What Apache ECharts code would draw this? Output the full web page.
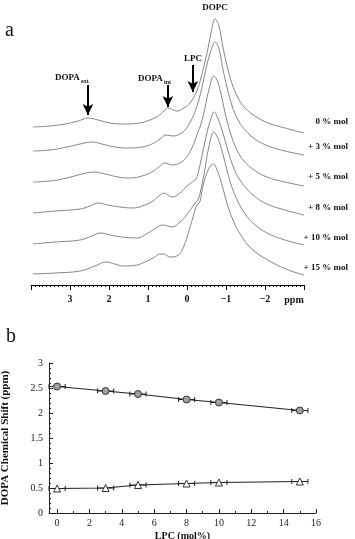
<!DOCTYPE html>
<html><head><meta charset="utf-8">
<script src="https://cdn.jsdelivr.net/npm/echarts@6/dist/echarts.min.js"></script>
<style>html,body{margin:0;padding:0;background:#fff}#c{width:355px;height:539px}</style>
</head><body><div id="c"></div>
<script>
// ---------- panel a : 31P NMR spectra (ppm, intensity above own baseline) ----------
const spectrumLabels = ['0 % mol', '+ 3 % mol', '+ 5 % mol', '+ 8 % mol', '+ 10 % mol', '+ 15 % mol'];
const spectrumOffsets = [158, 134, 103, 72, 41, 11];
const spec0 = [[3.95,0],[3.51,1],[3.13,3],[2.79,6],[2.54,9],[2.28,7],[1.97,4],[1.59,3],[1.21,4],[0.95,7],[0.74,11],[0.59,16],[0.49,19],[0.26,16],[0.08,19],[-0.08,24],[-0.26,37],[-0.41,57],[-0.54,79],[-0.64,99],[-0.72,108],[-0.82,101],[-0.92,80],[-1.03,61],[-1.15,44],[-1.31,29],[-1.49,19],[-1.74,11],[-2.08,4],[-2.51,-1],[-3.0,-6]];
const spec3 = [[3.95,0],[3.51,1],[3.08,4],[2.74,7],[2.44,9],[2.18,7],[1.85,4],[1.51,3],[1.15,4],[0.90,7],[0.69,12],[0.54,16],[0.36,15],[0.18,17],[0.03,22],[-0.10,30],[-0.21,40],[-0.31,52],[-0.41,68],[-0.51,86],[-0.62,101],[-0.72,109],[-0.82,102],[-0.92,82],[-1.03,63],[-1.15,46],[-1.31,31],[-1.49,21],[-1.74,12],[-2.08,5],[-2.51,0],[-3.0,-4]];
const spec5 = [[3.95,0],[3.51,1],[3.08,4],[2.69,8],[2.38,10],[2.10,8],[1.77,5],[1.46,4],[1.15,6],[0.90,10],[0.72,15],[0.56,19],[0.38,17],[0.18,19],[0.03,24],[-0.10,32],[-0.21,42],[-0.28,50],[-0.36,58],[-0.46,74],[-0.56,92],[-0.69,106],[-0.79,100],[-0.90,83],[-1.00,65],[-1.13,47],[-1.28,32],[-1.46,21],[-1.72,12],[-2.05,5],[-2.51,0],[-3.0,-4]];
const spec8 = [[3.95,0],[3.38,2],[2.74,4],[2.49,7],[2.28,10],[2.03,8],[1.72,6],[1.38,5],[1.08,8],[0.87,12],[0.72,17],[0.59,20],[0.38,16],[0.18,20],[0.00,27],[-0.13,31],[-0.23,34],[-0.31,44],[-0.41,62],[-0.51,80],[-0.62,95],[-0.69,101],[-0.79,95],[-0.92,80],[-1.03,65],[-1.15,50],[-1.31,36],[-1.49,26],[-1.72,17],[-2.05,9],[-2.51,3],[-3.0,-2]];
const spec10 = [[3.95,0],[3.38,2],[2.74,4],[2.44,8],[2.23,11],[1.97,9],[1.67,7],[1.28,6],[1.00,11],[0.79,16],[0.62,19],[0.38,17],[0.18,22],[0.03,28],[-0.10,35],[-0.21,41],[-0.28,44],[-0.36,55],[-0.46,75],[-0.56,97],[-0.69,112],[-0.79,106],[-0.92,90],[-1.03,73],[-1.15,57],[-1.31,42],[-1.49,30],[-1.72,20],[-2.05,11],[-2.51,4],[-3.0,-1]];
const spec15 = [[3.95,0],[3.38,1],[2.74,3],[2.36,8],[2.08,12],[1.85,10],[1.64,8],[1.28,9],[1.08,12],[0.87,16],[0.69,20],[0.59,20],[0.44,17],[0.26,18],[0.10,26],[-0.08,47],[-0.23,67],[-0.28,70],[-0.33,72],[-0.41,88],[-0.54,104],[-0.67,110],[-0.79,102],[-0.92,86],[-1.03,70],[-1.18,54],[-1.36,40],[-1.69,24],[-2.21,11],[-2.60,4],[-3.0,-1]];
const spectra = [spec0, spec3, spec5, spec8, spec10, spec15];
// arrow annotations: [ppm, top, tip] in panel-a value units
const arrowExt = [2.54, 200, 170];
const arrowInt = [0.49, 200, 178];
const arrowLpc = [-0.15, 220, 193];

// ---------- panel b : DOPA chemical shift vs LPC ----------
const lpc = [0, 3, 5, 8, 10, 15];
const dopaExt = [2.53, 2.44, 2.38, 2.27, 2.21, 2.05];
const dopaInt = [0.49, 0.50, 0.56, 0.59, 0.61, 0.63];
const lpcErr = [0.5, 0.5, 0.5, 0.5, 0.5, 0.5];

const SERIF = 'Liberation Serif';
const chart = echarts.init(document.getElementById('c'));

function errRender(params, api) {
  const x = api.value(0), y = api.value(1), e = api.value(2);
  const a = api.coord([x - e, y]), b = api.coord([x + e, y]);
  const h = 2.5, st = {stroke: '#222', lineWidth: 1};
  return {type: 'group', children: [
    {type: 'line', shape: {x1: a[0], y1: a[1], x2: b[0], y2: b[1]}, style: st},
    {type: 'line', shape: {x1: a[0], y1: a[1] - h, x2: a[0], y2: a[1] + h}, style: st},
    {type: 'line', shape: {x1: b[0], y1: b[1] - h, x2: b[0], y2: b[1] + h}, style: st}
  ]};
}

const specSeries = spectra.map((s, i) => ({
  type: 'line', xAxisIndex: 0, yAxisIndex: 0, showSymbol: false, smooth: 0.4,
  silent: true, animation: false,
  lineStyle: {color: '#858585', width: 1},
  data: s.map(p => [p[0], spectrumOffsets[i] + p[1]]),
  markLine: i === 0 ? {
    silent: true, animation: false, symbol: ['none', 'arrow'], symbolSize: [8, 11],
    lineStyle: {color: '#000', width: 2, type: 'solid'}, label: {show: false},
    emphasis: {disabled: true},
    data: [arrowExt, arrowInt, arrowLpc].map(a => [{coord: [a[0], a[1]]}, {coord: [a[0], a[2]]}])
  } : undefined
}));

const labelY = [122, 147, 177, 208, 238, 268];
const txt = (text, x, y, size, bold, align) => ({
  type: 'text', x: x, y: y, silent: true,
  style: {text: text, font: (bold ? 'bold ' : '') + size + 'px "' + SERIF + '"', fill: '#111',
    textAlign: align || 'left', textVerticalAlign: 'middle'}
});

const graphics = [
  txt('a', 5, 31, 20, false),
  txt('b', 6, 337, 20, false),
  txt('DOPC', 215, 8, 9, true, 'center'),
  txt('LPC', 193, 59, 9, true, 'center'),
  txt('DOPA', 55, 78, 9, true),
  txt('ext', 81, 81, 6, true),
  txt('DOPA', 138, 79, 9, true),
  txt('int', 164, 82, 6, true),
  txt('ppm', 294, 300, 10, true, 'center')
].concat(spectrumLabels.map((t, i) => txt(t, 348, labelY[i], 9, true, 'right')));

chart.setOption({
  animation: false,
  grid: [
    {left: 31, top: 0, width: 273, height: 285, outerBoundsMode: 'none', containLabel: false},
    {left: 49, top: 363, width: 267, height: 150, outerBoundsMode: 'none', containLabel: false},
    {left: 57, top: 363, width: 259, height: 150, outerBoundsMode: 'none', containLabel: false}
  ],
  xAxis: [
    {gridIndex: 0, type: 'value', min: -3, max: 4, interval: 1, inverse: true,
      axisLine: {lineStyle: {color: '#000', width: 1}},
      axisTick: {length: 5, lineStyle: {color: '#000'}},
      minorTick: {show: true, splitNumber: 10, length: 2, lineStyle: {color: '#000'}},
      splitLine: {show: false},
      axisLabel: {showMinLabel: false, showMaxLabel: false, margin: 9, color: '#111',
        fontFamily: SERIF, fontWeight: 'bold', fontSize: 10,
        formatter: v => String(v).replace('-', '\u2212')}},
    {gridIndex: 1, type: 'value', min: -0.5, max: 16, interval: 0.5,
      axisLine: {onZero: false, lineStyle: {color: '#222', width: 1}}, axisTick: {show: false},
      axisLabel: {show: false}, splitLine: {show: false},
      name: 'LPC (mol%)', nameLocation: 'middle', nameGap: 18,
      nameTextStyle: {fontFamily: SERIF, fontWeight: 'bold', fontSize: 10, color: '#111'}},
    {gridIndex: 2, type: 'value', min: 0, max: 16, interval: 2,
      axisLine: {show: false, onZero: false},
      axisTick: {inside: true, length: 4, lineStyle: {color: '#222'}},
      minorTick: {show: true, splitNumber: 2, length: 2, lineStyle: {color: '#222'}},
      splitLine: {show: false},
      axisLabel: {margin: 5, color: '#222', fontFamily: SERIF, fontSize: 10}}
  ],
  yAxis: [
    {gridIndex: 0, type: 'value', min: 0, max: 285, show: false},
    {gridIndex: 1, type: 'value', min: 0, max: 3, interval: 0.5,
      axisLine: {show: true, onZero: false, lineStyle: {color: '#222', width: 1}},
      axisTick: {show: true, inside: true, length: 4, lineStyle: {color: '#222'}},
      minorTick: {show: true, splitNumber: 5, length: 2, lineStyle: {color: '#222'}},
      splitLine: {show: false},
      axisLabel: {margin: 6, color: '#222', fontFamily: SERIF, fontSize: 10},
      name: 'DOPA Chemical Shift (ppm)', nameLocation: 'middle', nameGap: 38, nameRotate: 90,
      nameTextStyle: {fontFamily: SERIF, fontWeight: 'bold', fontSize: 11, color: '#111'}},
    {gridIndex: 2, type: 'value', min: 0, max: 3, show: false}
  ],
  series: specSeries.concat([
    {type: 'custom', xAxisIndex: 1, yAxisIndex: 1, renderItem: errRender, silent: true, z: 1,
      encode: {x: 0, y: 1}, data: lpc.map((x, i) => [x, dopaExt[i], lpcErr[i]])},
    {type: 'custom', xAxisIndex: 1, yAxisIndex: 1, renderItem: errRender, silent: true, z: 1,
      encode: {x: 0, y: 1}, data: lpc.map((x, i) => [x, dopaInt[i], lpcErr[i]])},
    {type: 'line', xAxisIndex: 1, yAxisIndex: 1, symbol: 'circle', symbolSize: 7, z: 3,
      itemStyle: {color: '#a0a0a0', borderColor: '#333', borderWidth: 1},
      lineStyle: {color: '#222', width: 1.2}, silent: true,
      data: lpc.map((x, i) => [x, dopaExt[i]])},
    {type: 'line', xAxisIndex: 1, yAxisIndex: 1, symbol: 'triangle', symbolSize: 7, z: 3,
      itemStyle: {color: '#fff', borderColor: '#333', borderWidth: 1},
      lineStyle: {color: '#222', width: 1.2}, silent: true,
      data: lpc.map((x, i) => [x, dopaInt[i]])}
  ]),
  graphic: graphics
});
</script>
</body></html>
